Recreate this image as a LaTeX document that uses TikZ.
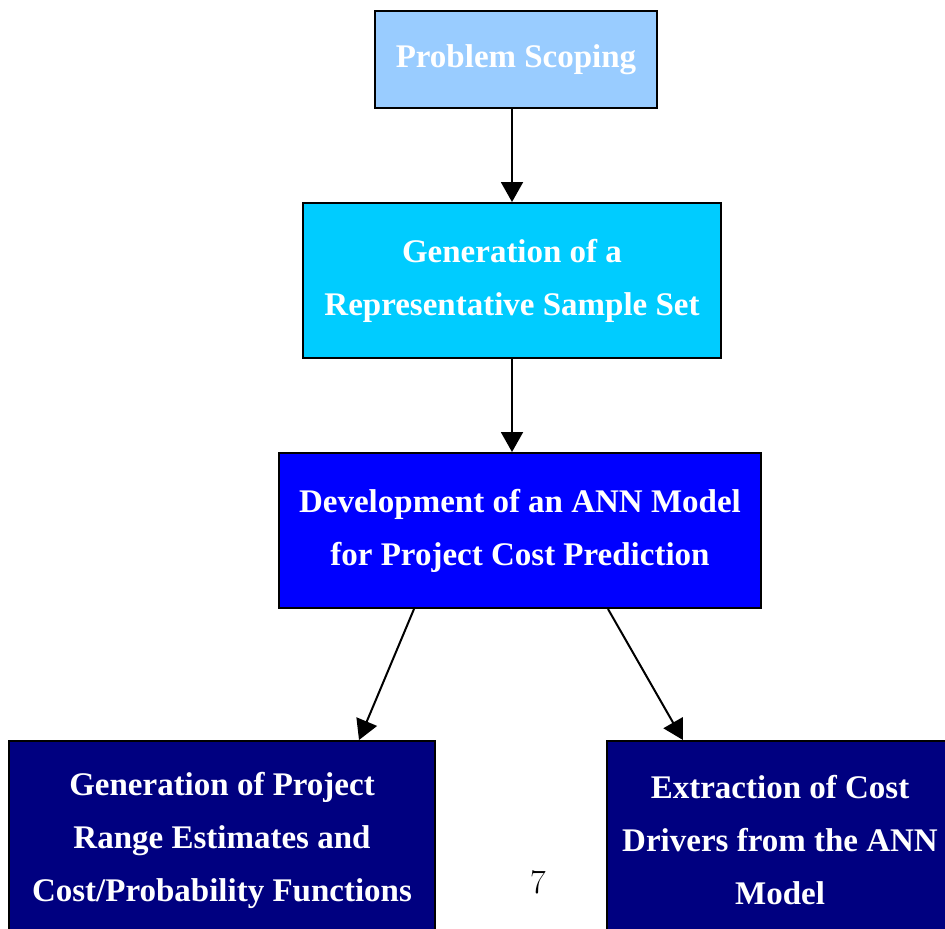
\documentclass[tikz,border=0pt]{standalone}
\usepackage{fontspec}
\newfontfamily\timesfont{Liberation Serif}
\usepackage{xcolor}
\definecolor{paleblue}{HTML}{99CCFF}
\definecolor{skyblue}{HTML}{00CCFF}
\definecolor{pureblue}{HTML}{0000FF}
\definecolor{darknavy}{HTML}{000080}
\usetikzlibrary{arrows.meta}

\begin{document}
\begin{tikzpicture}[x=0.5pt, y=-0.5pt, >={Triangle[length=10pt,width=11pt]},
    stage/.style={draw=black, line width=1pt, align=center, text=white,
        font=\timesfont\fontsize{16.5}{26.5}\selectfont\bfseries, inner sep=0pt},
    flow/.style={->, line width=1pt}]
    \useasboundingbox (0,0) rectangle (945,928);

    % Boxes
    \node[stage, fill=paleblue, minimum width=141pt, minimum height=48.5pt] (scope) at (516,59.5) {Problem Scoping};
    \node[stage, fill=skyblue, minimum width=209pt, minimum height=77.5pt] (sample) at (512,280.5) {Generation of a\\Representative Sample Set};
    \node[stage, fill=pureblue, minimum width=241pt, minimum height=77.5pt] (ann) at (520,530.5) {Development of an ANN Model\\for Project Cost Prediction};
    \node[stage, fill=darknavy, minimum width=213pt, minimum height=99.5pt] (range) at (222,840.5) {Generation of Project\\Range Estimates and\\Cost/Probability Functions};
    \node[stage, fill=darknavy, minimum width=173pt, minimum height=99.5pt] (drivers) at (780,840.5) {Extraction of Cost\\Drivers from the ANN\\Model};

    % Arrows
    \draw[flow] (scope.south -| sample) -- (sample.north);
    \draw[flow] (sample.south) -- (ann.north -| sample);
    \draw[flow] ([xshift=-53pt]ann.south) -- ([xshift=68.5pt]range.north);
    \draw[flow] ([xshift=44pt]ann.south) -- ([xshift=-48.5pt]drivers.north);

    \node[font=\fontsize{17}{20}\selectfont] (page) at (538,882) {7};
\end{tikzpicture}
\end{document}
